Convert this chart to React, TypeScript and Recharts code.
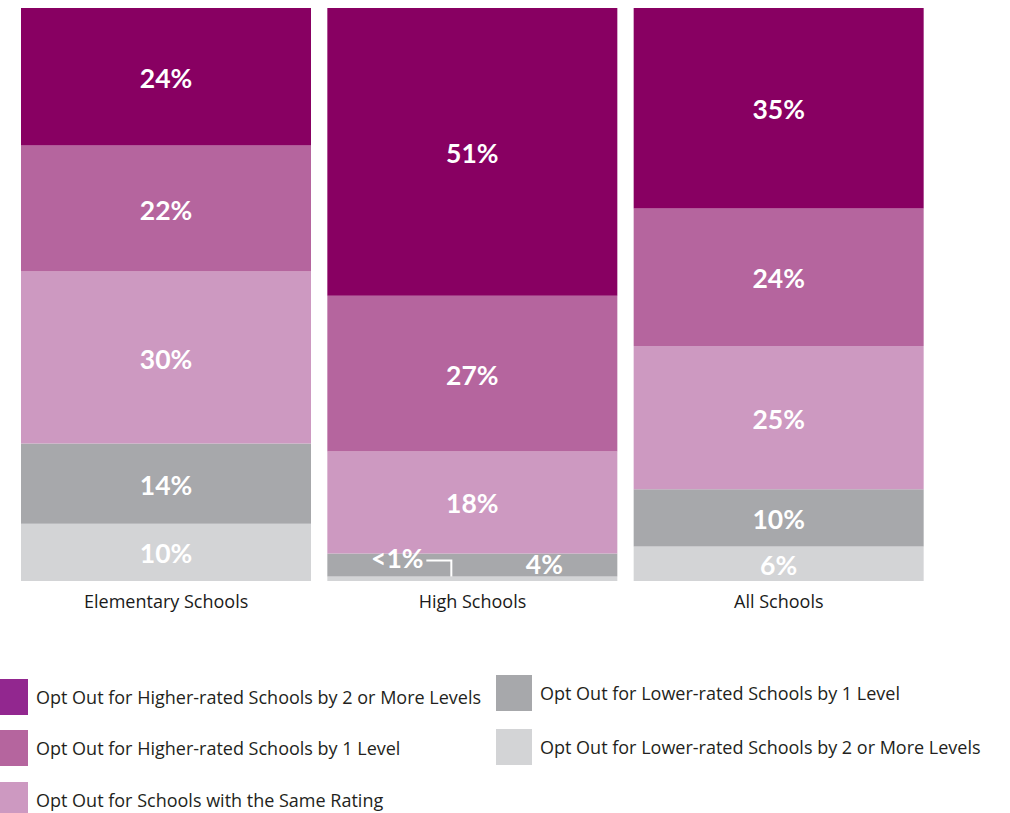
import React from 'react';
import { BarChart, Bar, XAxis, YAxis, LabelList } from 'recharts';

const categories = ['Elementary Schools', 'High Schools', 'All Schools'];
const higher2 = [24, 50.2, 35];
const higher1 = [22, 27.2, 24];
const same = [30, 17.8, 25];
const lower1 = [14, 4, 10];
const lower2 = [10, 0.8, 6];

const higher2Labels = ['24%', '51%', '35%'];
const higher1Labels = ['22%', '27%', '24%'];
const sameLabels = ['30%', '18%', '25%'];
const lower1Labels = ['14%', '4%', '10%'];
const lower2Labels = ['10%', '<1%', '6%'];

const seriesNames = [
  'Opt Out for Higher-rated Schools by 2 or More Levels',
  'Opt Out for Higher-rated Schools by 1 Level',
  'Opt Out for Schools with the Same Rating',
  'Opt Out for Lower-rated Schools by 1 Level',
  'Opt Out for Lower-rated Schools by 2 or More Levels',
];
const barColors = ['#880062', '#B5659E', '#CD99C1', '#A7A8AB', '#D3D4D6'];
const legendColors = ['#92278F', '#B5659E', '#CD99C1', '#A7A8AB', '#D3D4D6'];

const data = categories.map((c, i) => ({
  name: c,
  higher2: higher2[i],
  higher1: higher1[i],
  same: same[i],
  lower1: lower1[i],
  lower2: lower2[i],
}));

const FONT = '"Open Sans", Lato, sans-serif';
const LFONT = 'Lato, "Open Sans", sans-serif';

const makeLabel = (labels: string[], seriesKey: string) => (props: any) => {
  const { x, y, width, height, index } = props;
  const text = labels[index];
  const cx = x + width / 2;
  const cy = y + height / 2;
  const common = { fill: '#fff', fontSize: 26.5, fontWeight: 700, textAnchor: 'middle' as const, dominantBaseline: 'central' as const, fontFamily: LFONT };
  if (seriesKey === 'lower1' && index === 1) {
    return (
      <text x={cx + 72} y={cy - 1} {...common}>
        {text}
      </text>
    );
  }
  if (seriesKey === 'lower2' && index === 1) {
    const ty = y - 18;
    return (
      <g>
        <text x={x + 70} y={ty} {...common}>
          {text}
        </text>
        <path d={`M${x + 99},${ty + 2} H${x + 124} V${y}`} stroke="#fff" strokeWidth={2} fill="none" />
      </g>
    );
  }
  return (
    <text x={cx} y={cy + 1} {...common}>
      {text}
    </text>
  );
};

const series = [
  { key: 'higher2', labels: higher2Labels },
  { key: 'higher1', labels: higher1Labels },
  { key: 'same', labels: sameLabels },
  { key: 'lower1', labels: lower1Labels },
  { key: 'lower2', labels: lower2Labels },
];

const CategoryTick = (props: any) => {
  const { x, y, payload } = props;
  return (
    <text x={x} y={y} dy={12} textAnchor="middle" fill="#1a1a1a" fontSize={18} fontFamily={FONT} dominantBaseline="central">
      {payload.value}
    </text>
  );
};

const legendPos = [
  { left: -8, top: 679 },
  { left: -8, top: 730 },
  { left: -8, top: 782 },
  { left: 496, top: 675 },
  { left: 496, top: 729 },
];

export default function App() {
  return (
    <div style={{ position: 'absolute', left: 0, top: 0, width: 1010, height: 813, overflow: 'hidden', background: '#fff', fontFamily: FONT }}>
      <BarChart
        width={1010}
        height={640}
        data={data}
        margin={{ top: 8, left: 13, right: 78, bottom: 29 }}
        barSize={290}
      >
        <XAxis dataKey="name" axisLine={false} tickLine={false} height={30} tick={<CategoryTick />} interval={0} />
        <YAxis hide domain={[0, 100]} type="number" />
        {[...series].reverse().map((s) => {
          const idx = series.findIndex((q) => q.key === s.key);
          return (
            <Bar key={s.key} dataKey={s.key} stackId="a" fill={barColors[idx]} isAnimationActive={false} name={seriesNames[idx]}>
              <LabelList dataKey={s.key} content={makeLabel(s.labels, s.key)} />
            </Bar>
          );
        })}
      </BarChart>
      {seriesNames.map((n, i) => (
        <div key={n} style={{ position: 'absolute', left: legendPos[i].left, top: legendPos[i].top, display: 'flex', alignItems: 'center', height: 36 }}>
          <div style={{ width: 36, height: 36, background: legendColors[i], flex: 'none' }} />
          <span style={{ marginLeft: 8, fontSize: 18, color: '#231F20', whiteSpace: 'nowrap', fontFamily: FONT }}>{n}</span>
        </div>
      ))}
    </div>
  );
}
